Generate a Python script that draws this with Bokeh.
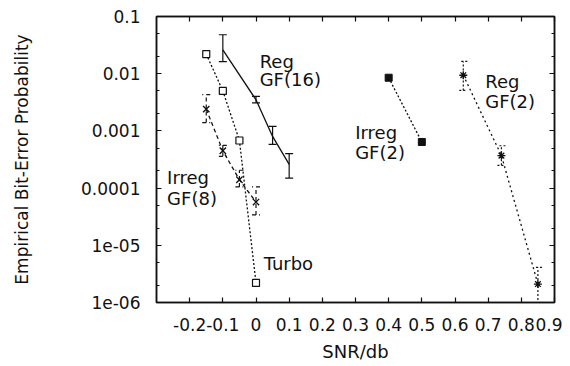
from bokeh.plotting import figure
from bokeh.models import (FixedTicker, LinearAxis, LogAxis, Whisker, ColumnDataSource,
                          Label, Range1d, TeeHead)
from bokeh.embed import file_html
from bokeh.resources import INLINE

# ---------------- data ----------------
x_ticks = [-0.2, -0.1, 0.0, 0.1, 0.2, 0.3, 0.4, 0.5, 0.6, 0.7, 0.8, 0.9]
x_tick_labels = ["-0.2", "-0.1", "0", "0.1", "0.2", "0.3", "0.4", "0.5", "0.6", "0.7", "0.8", "0.9"]
y_ticks = [1e-6, 1e-5, 1e-4, 1e-3, 1e-2, 1e-1]
y_tick_labels = ["1e-06", "1e-05", "0.0001", "0.001", "0.01", "0.1"]
y_minor = [2e-6, 5e-6, 2e-5, 5e-5, 2e-4, 5e-4, 2e-3, 5e-3, 2e-2, 5e-2]

reg16_x = [-0.1, 0.0, 0.05, 0.1]
reg16_y = [0.026, 0.0035, 0.0008, 0.00026]
reg16_lo = [0.0163, 0.0031, 0.00058, 0.00015]
reg16_hi = [0.048, 0.0040, 0.0012, 0.0004]

turbo_x = [-0.15, -0.1, -0.05, 0.0]
turbo_y = [0.022, 0.005, 0.00068, 2.2e-6]

irr8_x = [-0.15, -0.1, -0.05, 0.0]
irr8_y = [0.0024, 0.00045, 0.00014, 5.7e-5]
irr8_lo = [0.0014, 0.00036, 0.000105, 3.4e-5]
irr8_hi = [0.0043, 0.00056, 0.000205, 0.000105]

irr2_x = [0.4, 0.5]
irr2_y = [0.0085, 0.00064]

reg2_x = [0.625, 0.74, 0.85]
reg2_y = [0.0094, 0.00037, 2.1e-6]
reg2_lo = [0.0051, 0.00025, 8e-7]
reg2_hi = [0.0164, 0.00055, 4.1e-6]

labels = [
    ("Reg", 0.011, 0.01656), ("GF(16)", 0.011, 0.00782),
    ("Reg", 0.691, 0.0074), ("GF(2)", 0.691, 0.00327),
    ("Irreg", 0.299, 0.000948), ("GF(2)", 0.299, 0.000414),
    ("Irreg", -0.268, 0.000155), ("GF(8)", -0.268, 6.5e-5),
    ("Turbo", 0.023, 4.87e-6),
]

FONT = "DejaVu Sans"
INK = "#111111"

p = figure(width=562, height=366, x_range=Range1d(-0.3, 0.9), y_range=Range1d(1e-6, 0.1),
           y_axis_type="log", output_backend="svg", toolbar_location=None,
           min_border_left=156, min_border_right=8, min_border_top=16, min_border_bottom=64,
           background_fill_color="white", border_fill_color="white")
p.xgrid.visible = False
p.ygrid.visible = False
p.outline_line_color = INK
p.outline_line_width = 1.5

x_labels = {t: l for t, l in zip(x_ticks, x_tick_labels)}
y_labels = {t: l for t, l in zip(y_ticks, y_tick_labels)}

def style_axis(ax, show_labels):
    ax.axis_line_color = INK
    ax.axis_line_width = 1.5
    ax.major_tick_line_color = INK
    ax.major_tick_line_width = 1.2
    ax.minor_tick_line_color = INK
    ax.major_tick_in = 5
    ax.major_tick_out = 0
    ax.minor_tick_in = 3
    ax.minor_tick_out = 0
    if show_labels:
        ax.major_label_text_font = FONT
        ax.major_label_text_font_size = "17px"
        ax.major_label_text_color = INK
        ax.axis_label_text_font = FONT
        ax.axis_label_text_font_style = "normal"
        ax.axis_label_text_color = INK
    else:
        ax.major_label_text_font_size = "1px"
        ax.major_label_text_color = None
        ax.major_label_standoff = 0

xa = p.xaxis[0]
xa.ticker = FixedTicker(ticks=x_ticks)
xa.major_label_overrides = x_labels
style_axis(xa, True)
xa.major_label_standoff = 15
xa.axis_label = "SNR/db"
xa.axis_label_text_font_size = "18px"
xa.axis_label_standoff = 7

ya = p.yaxis[0]
ya.ticker = FixedTicker(ticks=y_ticks, minor_ticks=y_minor)
ya.major_label_overrides = y_labels
style_axis(ya, True)
ya.major_label_standoff = 16
ya.axis_label = "Empirical Bit-Error Probability"
ya.axis_label_text_font_size = "17px"
ya.axis_label_standoff = 46

top = LinearAxis(ticker=FixedTicker(ticks=x_ticks))
style_axis(top, False)
p.add_layout(top, "above")
right = LogAxis(ticker=FixedTicker(ticks=y_ticks, minor_ticks=y_minor))
style_axis(right, False)
p.add_layout(right, "right")

def whisk(xs, lo, hi, dash):
    src = ColumnDataSource(dict(x=xs, lo=lo, hi=hi))
    w = Whisker(base="x", lower="lo", upper="hi", source=src,
                line_color=INK, line_width=1.2, line_dash=dash,
                upper_head=TeeHead(size=8, line_color=INK, line_width=1.2, line_dash=dash),
                lower_head=TeeHead(size=8, line_color=INK, line_width=1.2, line_dash=dash))
    p.add_layout(w)

# Reg GF(16): solid with error bars
p.line(reg16_x, reg16_y, line_color=INK, line_width=1.3)
whisk(reg16_x, reg16_lo, reg16_hi, "solid")

# Turbo: dotted, open squares
p.line(turbo_x, turbo_y, line_color=INK, line_width=1.3, line_dash="2 2")
p.scatter(turbo_x, turbo_y, marker="square", size=7, fill_color="white", line_color=INK, line_width=1.2)

# Irreg GF(8): dashed, x markers, dashed error bars
p.line(irr8_x, irr8_y, line_color=INK, line_width=1.3, line_dash="4 3")
whisk(irr8_x, irr8_lo, irr8_hi, "4 3")
p.scatter(irr8_x, irr8_y, marker="x", size=9, line_color=INK, line_width=1.3)

# Irreg GF(2): dotted, filled squares
p.line(irr2_x, irr2_y, line_color=INK, line_width=1.3, line_dash="2 2")
p.scatter(irr2_x, irr2_y, marker="square", size=7, fill_color=INK, line_color=INK)

# Reg GF(2): dotted, asterisks, dotted error bars
p.line(reg2_x, reg2_y, line_color=INK, line_width=1.3, line_dash="2 3")
whisk(reg2_x, reg2_lo, reg2_hi, "2 2")
p.scatter(reg2_x, reg2_y, marker="asterisk", size=8, line_color=INK, line_width=1.3)

for txt, lx, ly in labels:
    p.add_layout(Label(x=lx, y=ly, text=txt, text_font=FONT, text_font_size="18px",
                       text_color=INK, text_baseline="alphabetic", text_align="left"))

open("out.html", "w").write(file_html(p, INLINE))
